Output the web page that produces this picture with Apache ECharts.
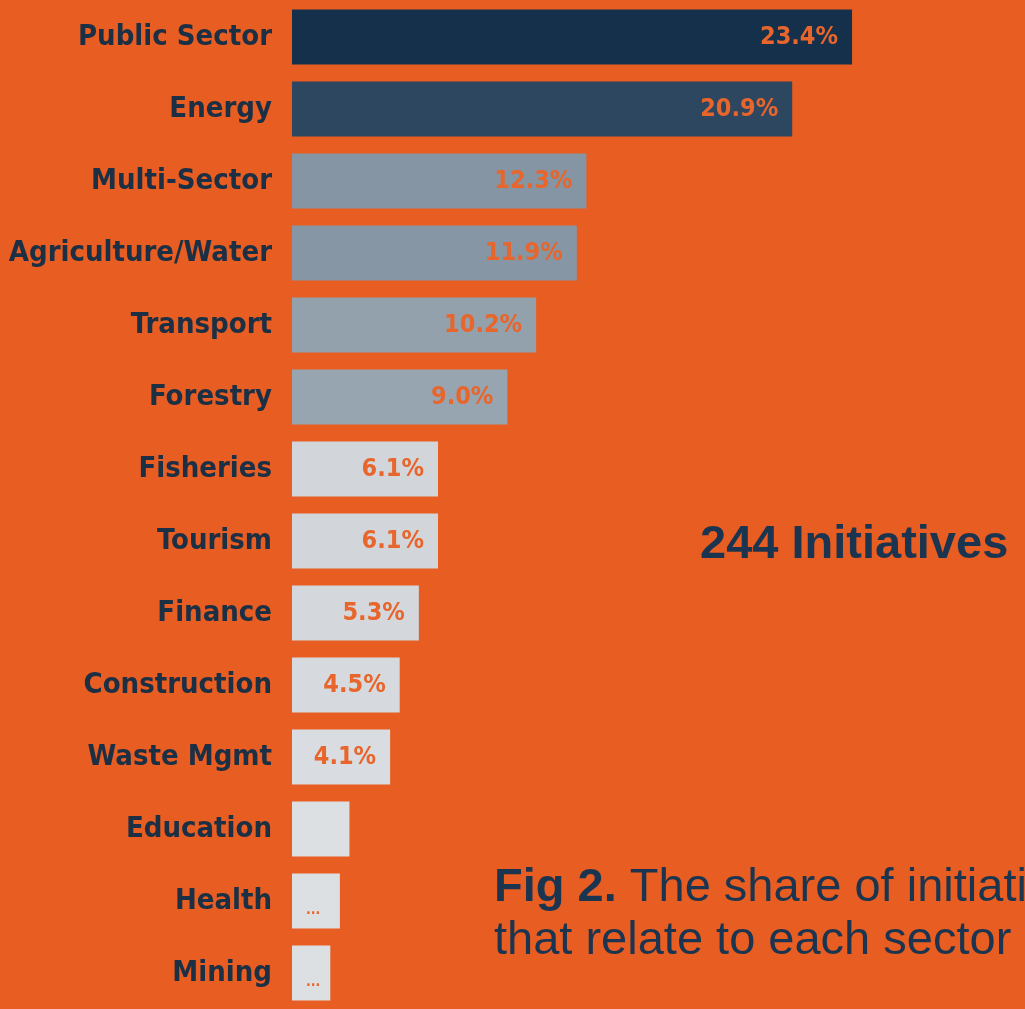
<!DOCTYPE html>
<html>
<head>
<meta charset="utf-8">
<script src="https://cdn.jsdelivr.net/npm/echarts@6/dist/echarts.min.js"></script>
<style>
  html, body { margin: 0; padding: 0; background: #e85d21; }
  #chart { width: 1025px; height: 1009px; }
</style>
</head>
<body>
<div id="chart"></div>
<script>
const categories = ['Public Sector', 'Energy', 'Multi-Sector', 'Agriculture/Water', 'Transport', 'Forestry', 'Fisheries', 'Tourism', 'Finance', 'Construction', 'Waste Mgmt', 'Education', 'Health', 'Mining'];
const values = [23.4, 20.9, 12.3, 11.9, 10.2, 9.0, 6.1, 6.1, 5.3, 4.5, 4.1, 2.4, 2.0, 1.6];
const valueLabels = ['23.4%', '20.9%', '12.3%', '11.9%', '10.2%', '9.0%', '6.1%', '6.1%', '5.3%', '4.5%', '4.1%', '', '...', '...'];
const barColors = ['#15304b', '#2c475f', '#8595a3', '#8796a4', '#93a1ad', '#97a5b0', '#d2d6db', '#d2d6db', '#d4d8dc', '#d6dade', '#d9dce0', '#dde0e3', '#dde0e3', '#dde0e3'];

const chart = echarts.init(document.getElementById('chart'));

const seriesData = values.map((v, i) => {
  const item = { value: v, itemStyle: { color: barColors[i] } };
  if (valueLabels[i] === '...') {
    item.label = { position: [14, 30], fontSize: 14, distance: 0 };
  }
  return item;
});

const txtFont = 'Liberation Sans';

chart.setOption({
  backgroundColor: '#e85d21',
  animation: false,
  grid: { left: 292, right: 15, top: 1, bottom: 0, containLabel: false },
  xAxis: {
    type: 'value', min: 0, max: 30, show: false
  },
  yAxis: {
    type: 'category',
    data: categories,
    inverse: true,
    axisLine: { show: false },
    axisTick: { show: false },
    splitLine: { show: false },
    axisLabel: {
      color: '#1b2f45',
      fontFamily: 'DejaVu Sans Condensed',
      fontWeight: 'bold',
      fontSize: 29,
      margin: 20
    }
  },
  series: [{
    type: 'bar',
    data: seriesData,
    barWidth: 55,
    label: {
      show: true,
      position: 'insideRight',
      distance: 14,
      color: '#e8652b',
      fontFamily: 'DejaVu Sans Condensed',
      fontWeight: 'bold',
      fontSize: 25,
      formatter: p => valueLabels[p.dataIndex]
    }
  }],
  graphic: [
    {
      type: 'text', left: 700, top: 522,
      style: {
        text: '244 Initiatives',
        fill: '#1b3550',
        fontFamily: txtFont,
        fontWeight: 'bold',
        fontSize: 47
      }
    },
    {
      type: 'text', left: 494, top: 865,
      style: {
        text: '{b|Fig 2.} The share of initiatives',
        fill: '#1b3550',
        fontFamily: txtFont,
        fontSize: 47,
        rich: {
          b: { fontWeight: 'bold', fontSize: 47, fontFamily: txtFont, fill: '#1b3550' }
        }
      }
    },
    {
      type: 'text', left: 494, top: 918,
      style: {
        text: 'that relate to each sector',
        fill: '#1b3550',
        fontFamily: txtFont,
        fontSize: 47
      }
    }
  ]
});
</script>
</body>
</html>
